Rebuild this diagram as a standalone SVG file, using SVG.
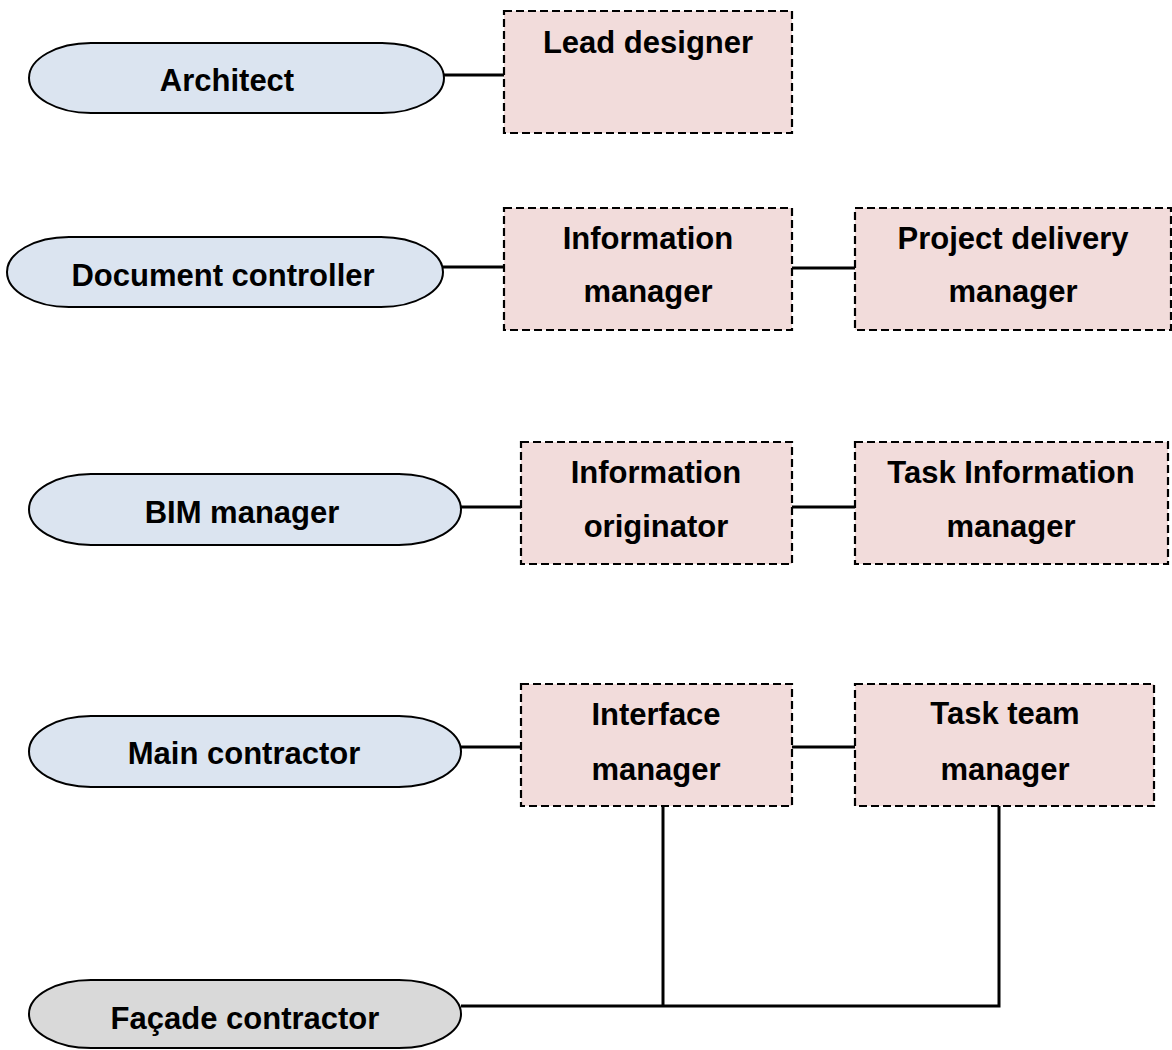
<svg xmlns="http://www.w3.org/2000/svg" width="1172" height="1050" viewBox="0 0 1172 1050">
<style>
.pill{fill:#dbe4f0;stroke:#000;stroke-width:2}
.gray{fill:#d9d9d9}
.box{fill:#f2dcdb;stroke:#000;stroke-width:2.2;stroke-dasharray:8,4}
.conn{stroke:#000;stroke-width:3;fill:none}
text{font-family:"Liberation Sans",Arial,sans-serif;font-weight:bold;font-size:31px;fill:#000;text-anchor:middle}
</style>
<rect width="1172" height="1050" fill="#fff"/>
<g id="connectors">
<line class="conn" x1="444" y1="75" x2="504" y2="75"/>
<line class="conn" x1="443" y1="267" x2="504" y2="267"/>
<line class="conn" x1="792" y1="268" x2="855" y2="268"/>
<line class="conn" x1="461" y1="507" x2="521" y2="507"/>
<line class="conn" x1="792" y1="507" x2="855" y2="507"/>
<line class="conn" x1="461" y1="747" x2="521" y2="747"/>
<line class="conn" x1="792" y1="747" x2="855" y2="747"/>
<line class="conn" x1="663" y1="806" x2="663" y2="1006"/>
<polyline class="conn" points="461,1006 999,1006 999,806"/>
</g>
<g id="architect"><rect class="pill" x="29" y="43" width="415" height="70" rx="62" ry="35"/><text x="227" y="91">Architect</text></g>
<g id="document-controller"><rect class="pill" x="7" y="237" width="436" height="70" rx="62" ry="35"/><text x="223" y="286">Document controller</text></g>
<g id="bim-manager"><rect class="pill" x="29" y="474" width="432" height="71" rx="62" ry="35.5"/><text x="242" y="523">BIM manager</text></g>
<g id="main-contractor"><rect class="pill" x="29" y="716" width="432" height="71" rx="62" ry="35.5"/><text x="244" y="764">Main contractor</text></g>
<g id="facade-contractor"><rect class="pill gray" x="29" y="980" width="432" height="68" rx="62" ry="34"/><text x="245" y="1029">Façade contractor</text></g>
<g id="lead-designer"><rect class="box" x="504" y="11" width="288" height="122"/><text x="648" y="53">Lead designer</text></g>
<g id="information-manager"><rect class="box" x="504" y="208" width="288" height="122"/><text x="648" y="249">Information</text><text x="648" y="302">manager</text></g>
<g id="project-delivery-manager"><rect class="box" x="855" y="208" width="316" height="122"/><text x="1013" y="249">Project delivery</text><text x="1013" y="302">manager</text></g>
<g id="information-originator"><rect class="box" x="521" y="442" width="271" height="122"/><text x="656" y="483">Information</text><text x="656" y="537">originator</text></g>
<g id="task-information-manager"><rect class="box" x="855" y="442" width="313" height="122"/><text x="1011" y="483">Task Information</text><text x="1011" y="537">manager</text></g>
<g id="interface-manager"><rect class="box" x="521" y="684" width="271" height="122"/><text x="656" y="725">Interface</text><text x="656" y="780">manager</text></g>
<g id="task-team-manager"><rect class="box" x="855" y="684" width="299" height="122"/><text x="1005" y="724">Task team</text><text x="1005" y="780">manager</text></g>
</svg>
